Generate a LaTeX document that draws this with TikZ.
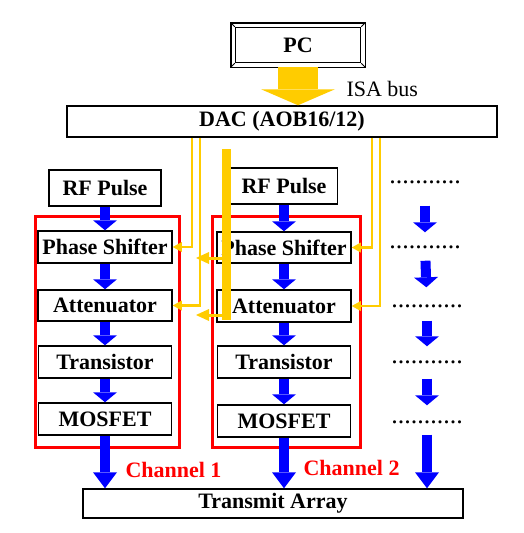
\documentclass[tikz,border=0pt]{standalone}
\usepackage{fontspec}
\setmainfont{Liberation Serif}
\usetikzlibrary{arrows.meta}
\definecolor{busyellow}{RGB}{255,204,0}

\begin{document}
\begin{tikzpicture}[
  x=1pt, y=-1pt,
  box/.style={draw=black, line width=1.5pt, fill=white, inner sep=0pt, minimum height=32pt, font=\fontsize{22}{24}\selectfont\bfseries},
  chan/.style={draw=red, line width=3pt},
  chanlbl/.style={anchor=west, text=red, font=\fontsize{22}{24}\selectfont\bfseries},
  dots/.style={inner sep=0pt, font=\fontsize{26}{28}\selectfont},
  sig/.style={blue, line width=10pt, -{Triangle[width=24pt, length=10pt, line width=0pt]}},
  sigout/.style={blue, line width=10pt, -{Triangle[width=24pt, length=16pt, line width=0pt]}},
  bus/.style={busyellow, line width=2.5pt, -{Triangle[width=10pt, length=9pt, line width=0pt]}},
  busbig/.style={busyellow, line width=3pt, -{Triangle[width=12pt, length=13pt, line width=0pt]}},
  bar/.style={busyellow, line width=9pt},
  isa/.style={busyellow, line width=40pt, -{Triangle[width=74pt, length=16pt, line width=0pt]}}
]
\useasboundingbox (0,0) rectangle (523,533);

% === PC and ISA bus ===
\node[box, minimum width=125pt, minimum height=35pt] (PC) at (298,45) {PC};
\draw[line width=1.5pt] ([shift={(-4pt,4pt)}]PC.north west) rectangle ([shift={(4pt,-4pt)}]PC.south east);
\foreach \c/\dx/\dy in {north west/-4/4, north east/4/4, south west/-4/-4, south east/4/-4}
  \draw[line width=0.8pt] (PC.\c) -- ++(\dx pt,\dy pt);

\node[box, minimum width=430pt, minimum height=31pt] (DAC) at (282,121.5) {DAC (AOB16/12)};
\draw[isa] ([yshift=-4pt]PC.south) -- (PC.south |- DAC.north);
\node[anchor=west, font=\fontsize{22}{24}\selectfont] (ISA) at (343,89) {ISA bus};

% === Channel frames ===
\draw[chan] (35,216) rectangle (179,447);
\draw[chan] (212,216) rectangle (360,447);

% === Channel 1 ===
\node[box, minimum width=112pt, minimum height=36pt] (RF1) at (105,188) {RF Pulse};
\node[box, minimum width=134pt] (PS1) at (105,247) {Phase Shifter};
\node[box, minimum width=134pt, minimum height=31pt] (AT1) at (105,305.5) {Attenuator};
\node[box, minimum width=133pt] (TR1) at (105,362) {Transistor};
\node[box, minimum width=133pt] (MF1) at (105,419) {MOSFET};

% === Channel 2 ===
\node[box, minimum width=107pt, minimum height=36pt] (RF2) at (284,186) {RF Pulse};
\node[box, minimum width=134pt, minimum height=31pt] (PS2) at (284,247.5) {Phase Shifter};
\node[box, minimum width=134pt] (AT2) at (284,306) {Attenuator};
\node[box, minimum width=133pt] (TR2) at (284,362) {Transistor};
\node[box, minimum width=133pt] (MF2) at (284,421) {MOSFET};

% === Further channels ===
\node[dots] (D1) at (425,182) {...........};
\node[dots] (D2) at (425,247) {...........};
\node[dots] (D3) at (427,306) {...........};
\node[dots] (D4) at (427,362) {...........};
\node[dots] (D5) at (427,422) {...........};

\node[box, minimum width=380pt, minimum height=29pt] (TA) at (273,503.5) {Transmit Array};

% signal path
\foreach \a/\b in {RF1/PS1, PS1/AT1, AT1/TR1, TR1/MF1, RF2/PS2, PS2/AT2, AT2/TR2, TR2/MF2}
  \draw[sig] (\a) -- (\b);
\foreach \a/\b/\s/\e in {D1/D2/22/13, D2/D3/12/17, D3/D4/13/14, D4/D5/15/15}
  \draw[sig, shorten <=\s pt, shorten >=\e pt] (\a) -- (\b);

\draw[sigout] (MF1) -- (MF1 |- TA.north);
\draw[sigout] (MF2) -- (MF2 |- TA.north);
\draw[sigout, shorten <=11pt] (D5) -- (D5 |- TA.north);

\node[chanlbl] (C1) at (122,470) {Channel 1};
\node[chanlbl] (C2) at (300,468) {Channel 2};

% control lines from DAC
\draw[bus] (DAC.south -| 192,0) |- (PS1.east);
\draw[bus] (DAC.south -| 200,0) |- (AT1.east);
\draw[bus] (DAC.south -| 372,0) |- (PS2.east);
\draw[bus] (DAC.south -| 380,0) |- (AT2.east);

% wide bus
\draw[bar] (226,149) -- (226,320);
\coordinate (J1) at (222,258);
\coordinate (K1) at (196,258);
\coordinate (J2) at (222,315);
\coordinate (K2) at (196,315);
\draw[busbig] (J1) -- (K1);
\draw[busbig] (J2) -- (K2);

\end{tikzpicture}
\end{document}
